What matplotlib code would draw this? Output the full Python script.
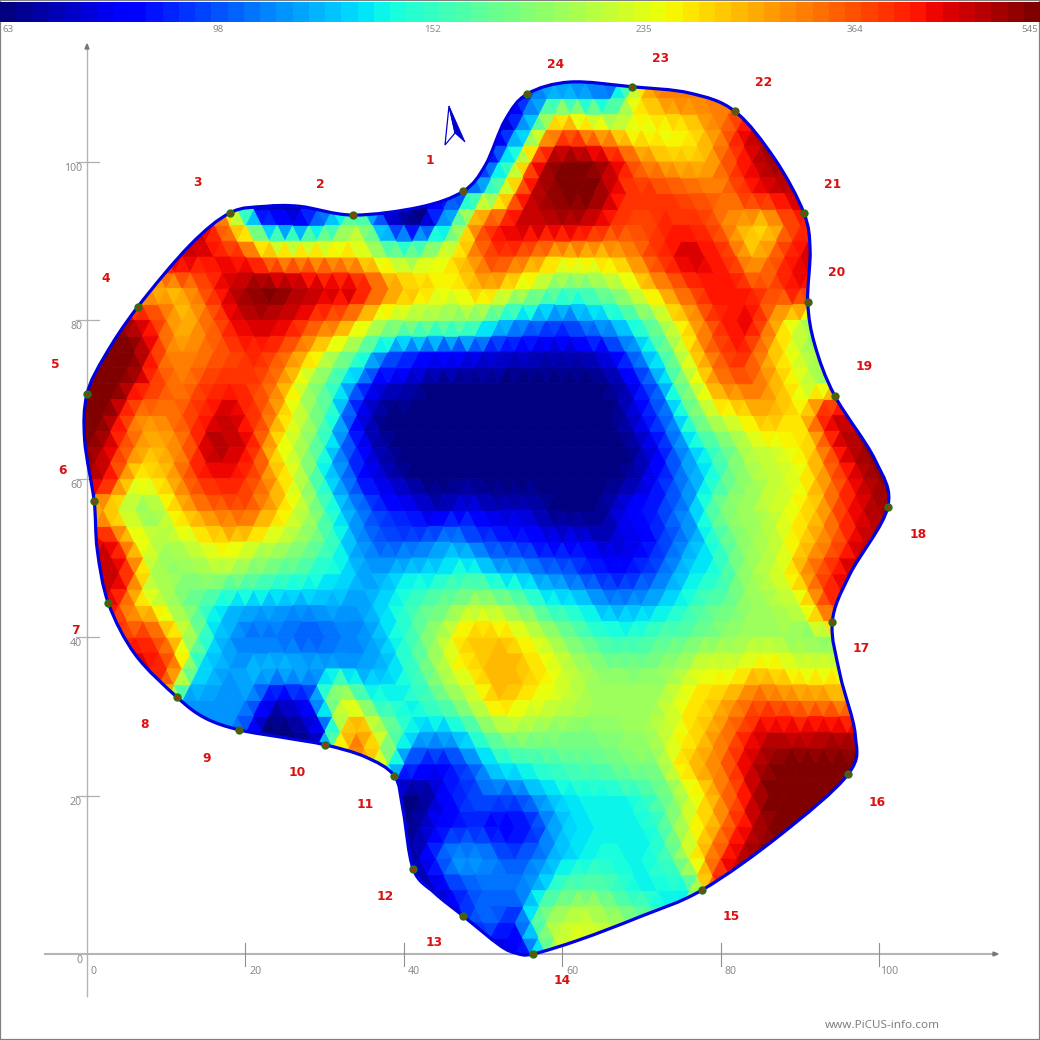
import numpy as np
import matplotlib
matplotlib.use("Agg")
import matplotlib.pyplot as plt
from matplotlib.colors import LogNorm
from matplotlib.path import Path
from matplotlib.patches import PathPatch, Polygon, Rectangle
from matplotlib.tri import Triangulation, UniformTriRefiner, LinearTriInterpolator

# ---------- data ----------
sensor_x = [47.5, 33.6, 18.1, 6.4, 0.0, 0.9, 2.7, 11.4, 19.2, 30.1, 38.8, 41.2,
            47.5, 56.3, 77.7, 96.1, 94.1, 101.1, 94.4, 91.0, 90.5, 81.8, 68.8, 55.6]
sensor_y = [96.3, 93.3, 93.6, 81.7, 70.7, 57.2, 44.3, 32.4, 28.3, 26.4, 22.5, 10.7,
            4.8, 0.0, 8.1, 22.7, 41.9, 56.4, 70.5, 82.3, 93.6, 106.4, 109.5, 108.6]
sensor_names = [str(i) for i in range(1, 25)]

outline_x = [47.5, 42.0, 33.6, 26.9, 22.5, 18.1, 13.0, 6.4, 2.3, 0.0, -0.3, 0.9, 1.3, 2.7, 6.1, 11.4,
             14.9, 19.2, 25.0, 30.1, 35.1, 38.8, 39.9, 41.2, 43.9, 47.5, 52.1, 54.2, 56.3, 62.2, 69.8, 77.7,
             87.5, 96.1, 97.0, 95.1, 94.1, 96.3, 101.1, 99.5, 94.4, 91.9, 91.0, 91.3, 90.5, 86.9, 81.8,
             76.1, 68.8, 61.0, 55.6, 52.8, 50.3]
outline_y = [96.3, 94.3, 93.3, 94.4, 94.4, 93.6, 89.5, 81.7, 75.6, 70.7, 64.9, 57.2, 51.0, 44.3, 37.8, 32.4,
             29.8, 28.3, 27.3, 26.4, 24.9, 22.5, 18.2, 10.7, 7.7, 4.8, 1.1, 0.1, 0.0, 1.8, 4.7, 8.1,
             15.0, 22.7, 27.7, 35.2, 41.9, 47.9, 56.4, 62.4, 70.5, 76.9, 82.3, 88.9, 93.6, 100.3, 106.4,
             108.7, 109.5, 110.1, 108.6, 105.3, 99.6]

colorbar_ticks = [63, 98, 152, 235, 364, 545]
axis_ticks = [0, 20, 40, 60, 80, 100]

# measured speed per mesh row: row height, index of first column, values
row_y = [112, 108, 104, 100, 96, 92, 88, 84, 80, 76, 72, 68, 64, 60, 56, 52, 48, 44, 40, 36, 32, 28, 24, 20, 16, 12, 8, 4, 0, -4]
row_first = [14, 13, 13, 12, 5, 4, 3, 2, 2, 1, 1, 0, 0, 0, 0, 1, 1, 1, 2, 2, 3, 3, 6, 10, 11, 10, 11, 12, 14, 14]
row_values = [
    [80, 97, 97, 85, 85, 338, 338, 338, 470],
    [63, 72, 125, 125, 115, 285, 338, 338, 338, 470],
    [63, 63, 137, 338, 285, 235, 235, 250, 338, 470, 500],
    [72, 72, 166, 500, 545, 470, 338, 285, 285, 400, 500, 500],
    [338, 63, 63, 72, 97, 72, 63, 72, 97, 186, 470, 545, 545, 400, 400, 370, 338, 410, 470, 470],
    [470, 300, 97, 80, 115, 206, 80, 63, 137, 380, 470, 470, 470, 400, 380, 410, 400, 300, 260, 400, 410],
    [470, 470, 440, 400, 300, 300, 285, 235, 186, 235, 300, 400, 338, 270, 270, 300, 400, 470, 420, 285, 400, 470],
    [250, 285, 338, 470, 545, 520, 470, 470, 338, 285, 250, 300, 235, 186, 166, 190, 250, 338, 420, 430, 370, 450, 300],
    [500, 420, 285, 360, 470, 470, 400, 338, 240, 200, 190, 186, 137, 110, 97, 115, 137, 190, 285, 410, 440, 270, 186, 186],
    [545, 545, 338, 330, 380, 410, 340, 240, 170, 105, 90, 85, 80, 75, 72, 72, 80, 115, 190, 320, 420, 300, 220, 186],
    [545, 545, 400, 338, 400, 400, 330, 206, 137, 80, 72, 63, 63, 63, 63, 63, 63, 72, 105, 206, 330, 360, 280, 210, 186],
    [545, 545, 338, 330, 400, 470, 370, 240, 166, 80, 63, 63, 63, 63, 63, 63, 63, 63, 80, 115, 206, 250, 300, 260, 470, 470],
    [545, 545, 400, 285, 338, 500, 450, 260, 190, 110, 72, 63, 63, 63, 63, 63, 63, 63, 63, 80, 120, 166, 220, 240, 290, 480, 545],
    [500, 470, 250, 285, 400, 430, 350, 240, 137, 90, 72, 63, 63, 63, 63, 63, 63, 63, 72, 97, 130, 186, 220, 240, 338, 470, 545],
    [285, 285, 230, 186, 285, 340, 370, 285, 206, 130, 97, 85, 72, 80, 72, 72, 63, 63, 80, 90, 115, 186, 206, 235, 285, 410, 500, 500],
    [470, 270, 206, 240, 270, 230, 206, 166, 115, 97, 100, 115, 97, 90, 80, 80, 72, 80, 100, 130, 186, 210, 270, 338, 470, 470],
    [470, 470, 215, 190, 206, 186, 166, 150, 137, 115, 130, 137, 150, 125, 115, 105, 90, 85, 100, 130, 150, 206, 240, 360, 470],
    [470, 285, 215, 166, 125, 120, 115, 120, 115, 137, 166, 186, 215, 186, 150, 137, 115, 120, 137, 166, 186, 206, 225, 400, 400],
    [400, 400, 240, 130, 105, 105, 97, 105, 115, 150, 200, 285, 285, 240, 190, 160, 150, 166, 175, 190, 206, 200, 190, 190],
    [470, 400, 137, 115, 125, 125, 120, 115, 125, 166, 235, 285, 300, 260, 215, 190, 186, 200, 240, 240, 270, 235, 235, 260],
    [400, 115, 115, 115, 72, 85, 235, 150, 137, 166, 206, 285, 250, 225, 206, 206, 206, 260, 285, 360, 338, 330, 300, 300],
    [115, 115, 115, 63, 63, 80, 338, 190, 125, 125, 166, 206, 190, 186, 190, 200, 235, 285, 370, 470, 450, 470, 470],
    [63, 63, 63, 338, 285, 97, 80, 97, 137, 150, 166, 170, 186, 190, 285, 338, 470, 545, 545, 545, 545],
    [63, 63, 85, 100, 97, 125, 137, 137, 150, 186, 270, 380, 545, 545, 545, 545],
    [63, 80, 90, 80, 85, 125, 137, 137, 150, 230, 320, 470, 545, 545, 545],
    [63, 72, 115, 115, 97, 115, 137, 145, 137, 166, 300, 470, 545, 545],
    [72, 72, 97, 105, 115, 166, 175, 150, 137, 137, 420, 470],
    [72, 105, 85, 206, 235, 215, 186, 137],
    [72, 90, 235, 235, 215],
    [72, 100, 235, 235],
]

# ---------- layout helpers ----------
SCALE = 7.92
X0, Y0 = 87.0, 954.0


def P(px, py):
    return (px - X0) / SCALE, (Y0 - py) / SCALE


GRAY = "#b4b4b4"
TXT = "#8a8a8a"
fig = plt.figure(figsize=(10.4, 10.4), dpi=100, facecolor="white")
ax = fig.add_axes([0, 0, 1, 1])
ax.set_xlim(P(0, 0)[0], P(1040, 0)[0])
ax.set_ylim(P(0, 1040)[1], P(0, 0)[1])
ax.axis("off")

# axes
ax.plot([P(44, 954)[0], P(994, 954)[0]], [0, 0], color=GRAY, lw=1.5, zorder=1, solid_capstyle="butt")
ax.plot([0, 0], [P(87, 997)[1], P(87, 48)[1]], color=GRAY, lw=1.0, zorder=1, solid_capstyle="butt")
ax.add_patch(Polygon([P(998, 954), P(993, 952), P(993, 956)], color="#777777", zorder=1))
ax.add_patch(Polygon([P(87, 44), P(85, 49), P(89, 49)], color="#777777", zorder=1))
tk = 11.5 / SCALE
for t in axis_ticks:
    if t > 0:
        ax.plot([t, t], [-tk, tk], color="#909090", lw=0.8, zorder=1)
        ax.plot([-tk, tk], [t, t], color="#b0b0b0", lw=0.9, zorder=1)
    ax.text(t + (6 if t == 0 else 10) / SCALE, -17 / SCALE, str(t), fontsize=7.6, color=TXT,
            family="Noto Sans", ha="center", va="center")
    ax.text(-5 / SCALE, t - 6.5 / SCALE, str(t), fontsize=7.6, color=TXT, family="Noto Sans",
            ha="right", va="center")

# outline path (closed Catmull-Rom through the outline points)
pts = np.column_stack([outline_x, outline_y])
n = len(pts)
verts = [pts[0]]
codes = [Path.MOVETO]
for i in range(n):
    p0, p1, p2, p3 = pts[i - 1], pts[i], pts[(i + 1) % n], pts[(i + 2) % n]
    verts += [p1 + (p2 - p0) / 6, p2 - (p3 - p1) / 6, p2]
    codes += [Path.CURVE4] * 3
outline = Path(verts, codes)

# triangular mesh, drawn on a finer subdivision of the read values
mx, my, mv = [], [], []
for y, first, vals in zip(row_y, row_first, row_values):
    offset = -4 if y % 8 == 0 else -2
    for k, v in enumerate(vals):
        mx.append(offset + 4 * (first + k))
        my.append(y)
        mv.append(v)
tri = Triangulation(np.array(mx, float), np.array(my, float))
values = np.array(mv, float)
fine_tri, fine_v = UniformTriRefiner(tri).refine_field(
    values, triinterpolator=LinearTriInterpolator(tri, values), subdiv=1)
cmap = matplotlib.colormaps["jet"].resampled(64)
norm = LogNorm(vmin=colorbar_ticks[0], vmax=colorbar_ticks[-1])
mesh = ax.tripcolor(fine_tri, fine_v, shading="flat", cmap=cmap, norm=norm,
                    edgecolors="face", linewidth=0.6, zorder=2)
clip = PathPatch(outline, transform=ax.transData, facecolor="none", edgecolor="none")
ax.add_patch(clip)
mesh.set_clip_path(clip)

ax.add_patch(PathPatch(outline, facecolor="none", edgecolor="#0000e0", lw=2.3, zorder=3))

# sensors
ax.scatter(sensor_x, sensor_y, s=36, color="#2f6e12", zorder=4, linewidths=0)
ax.scatter(sensor_x, sensor_y, s=7, color="#a83010", zorder=5, linewidths=0)

# sensor names
label_px = [(430, 160), (320, 185), (197, 183), (106, 278), (55, 365), (62, 471), (75, 630), (144, 725),
            (207, 758), (297, 772), (365, 804), (385, 897), (434, 943), (562, 981), (731, 917), (877, 802),
            (861, 649), (918, 535), (864, 367), (837, 273), (833, 184), (764, 82), (661, 58), (556, 64)]
for name, (lx, ly) in zip(sensor_names, label_px):
    tx, ty = P(lx, ly)
    ax.text(tx, ty, name, color="#dd1010", fontsize=8.8, fontweight="bold", family="DejaVu Sans",
            ha="center", va="center", zorder=6)

# north arrow
ax.add_patch(Polygon([P(449, 106), P(445, 145), P(455, 133)], facecolor="white", edgecolor="#0000d0", lw=0.9, zorder=3))
ax.add_patch(Polygon([P(449, 106), P(455, 133), P(465, 142)], facecolor="#0000d0", edgecolor="#0000d0", lw=0.6, zorder=3))

# watermark
wx, wy = P(882, 1025)
ax.text(wx, wy, "www.PiCUS-info.com", fontsize=8.4, color="#808080", family="Noto Sans", ha="center", va="center")

# frame
ax.add_patch(Rectangle((0, 0), 1, 1, transform=ax.transAxes, fill=False, edgecolor="#808080", lw=1.6, zorder=10))

# colour bar
cax = fig.add_axes([0, 1 - 22 / 1040, 1, 20 / 1040])
edges = np.geomspace(colorbar_ticks[0], colorbar_ticks[-1], 65)
centers = np.sqrt(edges[:-1] * edges[1:])
cax.pcolormesh(np.arange(65), [0, 1], centers[None, :], cmap=cmap, norm=norm)
cax.axis("off")
tick_x = [8, 218, 433, 644, 855, 1030]
for t, px in zip(colorbar_ticks, tick_x):
    tx, ty = P(px, 30)
    ax.text(tx, ty, str(t), fontsize=7, color=TXT, family="Noto Sans", ha="center", va="center", zorder=7)

fig.savefig("out.png", dpi=100)
